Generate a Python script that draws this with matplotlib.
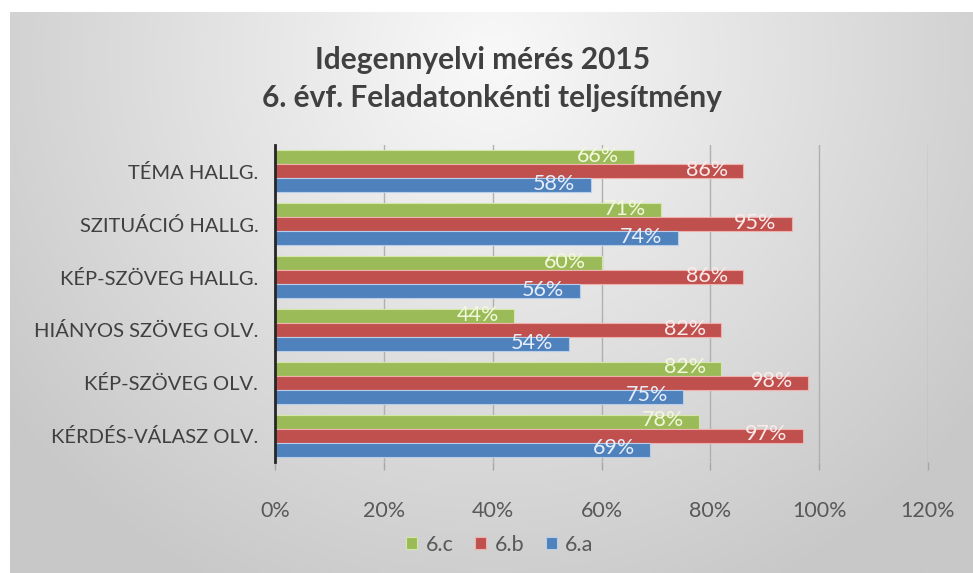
import numpy as np
import matplotlib
matplotlib.use("Agg")
import matplotlib.pyplot as plt

categories = ["TÉMA HALLG.", "SZITUÁCIÓ HALLG.", "KÉP-SZÖVEG HALLG.",
              "HIÁNYOS SZÖVEG OLV.", "KÉP-SZÖVEG OLV.", "KÉRDÉS-VÁLASZ OLV."]
series_names = ["6.c", "6.b", "6.a"]
vals_6c = [0.66, 0.71, 0.60, 0.44, 0.82, 0.78]
vals_6b = [0.86, 0.95, 0.86, 0.82, 0.98, 0.97]
vals_6a = [0.58, 0.74, 0.56, 0.54, 0.75, 0.69]
xticks = [0, 0.2, 0.4, 0.6, 0.8, 1.0, 1.2]
xticklabels = ["0%", "20%", "40%", "60%", "80%", "100%", "120%"]
title_lines = ["Idegennyelvi mérés 2015", "6. évf. Feladatonkénti teljesítmény"]

colors = ["#9BBB59", "#C0504D", "#4F81BD"]
edge_cols = ["#d4e6a8", "#f0b0ae", "#b7cdea"]
label_cols = ["#f3f8dc", "#fbeaea", "#e6eefa"]

plt.rcParams['font.family'] = ['Lato', 'DejaVu Sans']

W, H = 973, 573
fig = plt.figure(figsize=(W / 100, H / 100), dpi=100)
fig.patch.set_facecolor("white")

# background panel with gradient
bg = fig.add_axes([10 / W, 0, (W - 10) / W, (H - 12) / H])
bg.set_axis_off()
ny, nx = 200, 300
yy, xx = np.mgrid[0:1:ny * 1j, 0:1:nx * 1j]
r = np.sqrt(((xx - 0.5) / 0.62) ** 2 + ((yy - 0.08) / 1.05) ** 2)
val = np.clip(249 - 48 * r, 200, 250) / 255.0
img = np.dstack([val, val, val])
bg.imshow(img, aspect="auto", extent=[0, 1, 1, 0], interpolation="bilinear")
bg.set_xlim(0, 1)
bg.set_ylim(1, 0)

ax = fig.add_axes([275 / W, 1 - 462 / H, 653 / W, 317 / H])
ax.patch.set_alpha(0)

n = len(categories)
y = np.arange(n)
h = 0.265
offsets = [-h, 0, h]
series = [vals_6c, vals_6b, vals_6a]
for i, (vals, off) in enumerate(zip(series, offsets)):
    ax.barh(y + off, vals, height=h, color=colors[i], edgecolor=edge_cols[i],
            linewidth=0.8, label=series_names[i], zorder=3)
    for yy_, v in zip(y + off, vals):
        ax.annotate(f"{round(v * 100):d}%", xy=(v, yy_), xytext=(-11, 1),
                    textcoords="offset points", ha="right", va="center",
                    fontsize=15.5, color=label_cols[i], zorder=4)

ax.set_ylim(n - 0.5, -0.5)
ax.set_xlim(0, 1.2)
ax.set_yticks(y)
ax.set_yticklabels(categories, fontsize=14.5, color="#404040")
ax.tick_params(axis="y", length=0, pad=12)
ax.set_xticks(xticks)
ax.set_xticklabels(xticklabels, fontsize=15.5, color="#595959")
ax.tick_params(axis="x", length=6, color="#a6a6a6", width=1, pad=22)
ax.grid(axis="x", color="#b0b0b0", linewidth=1, zorder=0)
for s in ["top", "right", "bottom"]:
    ax.spines[s].set_visible(False)
ax.spines["left"].set_color("#262626")
ax.spines["left"].set_linewidth(2)
ax.spines["left"].set_zorder(5)

fig.text(483 / W, 1 - 60 / H, title_lines[0], ha="center", va="center",
         fontsize=21.5, fontweight="bold", color="#404040")
fig.text(492 / W, 1 - 98 / H, title_lines[1], ha="center", va="center",
         fontsize=21.5, fontweight="bold", color="#404040")

handles, labels = ax.get_legend_handles_labels()
fig.legend(handles, labels, loc="center", bbox_to_anchor=(500 / W, 1 - 545 / H),
           ncol=3, frameon=False, fontsize=15.5, handlelength=0.5, handleheight=0.5,
           handletextpad=0.4, columnspacing=1.0, labelcolor="#595959")

fig.savefig("out.png", dpi=100)
